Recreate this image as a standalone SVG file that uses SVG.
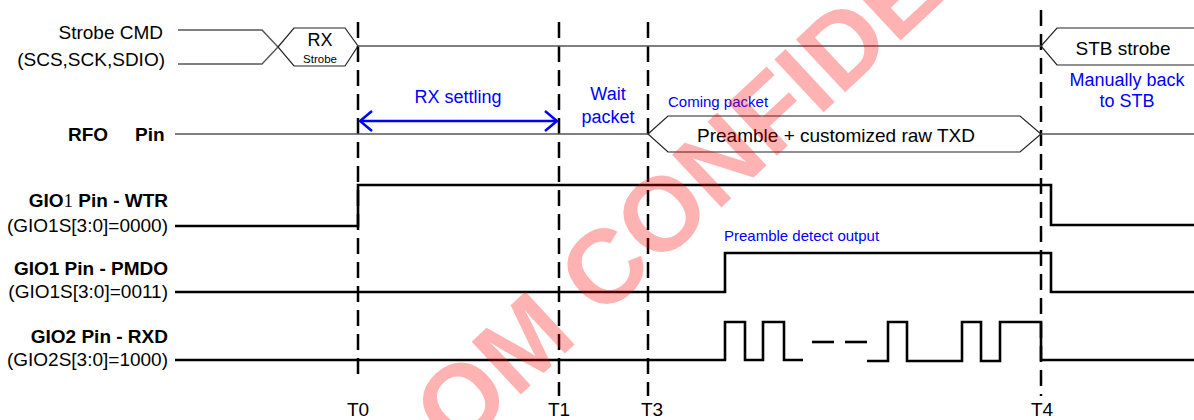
<svg xmlns="http://www.w3.org/2000/svg" width="1194" height="420" viewBox="0 0 1194 420">
<style>
text{font-family:"Liberation Sans",Arial,sans-serif;}
.lbl{font-size:19px;fill:#000;}
.b{font-weight:bold;}
.blue{fill:#0000ff;font-size:18px;}
.sm{fill:#0000ff;font-size:15px;}
.thin{fill:none;stroke:#555;stroke-width:1.4;}
.hex{fill:none;stroke:#222;stroke-width:1.2;}
.wave{fill:none;stroke:#000;stroke-width:2.6;stroke-linejoin:miter;}
.dash{stroke:#000;stroke-width:2.5;stroke-dasharray:16 8;}
.arr{fill:none;stroke:#0000ff;stroke-width:2.5;}
</style>
<rect width="1194" height="420" fill="#fff"/>

<g id="labels">
<text class="lbl" x="163" y="39" text-anchor="end">Strobe CMD</text>
<text class="lbl" x="165" y="66" text-anchor="end">(SCS,SCK,SDIO)</text>
<text class="lbl b" x="68" y="141">RFO</text>
<text class="lbl b" x="135" y="141">Pin</text>
<text class="lbl b" x="168" y="207" text-anchor="end">GIO<tspan font-weight="normal" font-family="Liberation Serif">1</tspan> Pin - WTR</text>
<text class="lbl" x="168" y="232" text-anchor="end">(GIO1S[3:0]=0000)</text>
<text class="lbl b" x="168" y="275" text-anchor="end">GIO1 Pin - PMDO</text>
<text class="lbl" x="168" y="298" text-anchor="end">(GIO1S[3:0]=0011)</text>
<text class="lbl b" x="168" y="343" text-anchor="end">GIO2 Pin - RXD</text>
<text class="lbl" x="168" y="366" text-anchor="end">(GIO2S[3:0]=1000)</text>
</g>

<g id="time-markers">
<line class="dash" x1="358" y1="22" x2="358" y2="380"/>
<line class="dash" x1="559" y1="22" x2="559" y2="396"/>
<line class="dash" x1="648" y1="22" x2="648" y2="396"/>
<line class="dash" x1="1041" y1="10" x2="1041" y2="396"/>
<text class="lbl" x="358" y="416" text-anchor="middle">T0</text>
<text class="lbl" x="559" y="416" text-anchor="middle">T1</text>
<text class="lbl" x="652" y="416" text-anchor="middle">T3</text>
<text class="lbl" x="1042" y="416" text-anchor="middle">T4</text>
</g>

<g id="strobe-cmd">
<polyline class="thin" points="178,30 262,30 278,47"/>
<polyline class="thin" points="178,64 262,64 278,47"/>
<polygon class="hex" points="278,47 294,28 345,28 358,46 345,66 294,66"/>
<text x="320" y="46" font-size="18" text-anchor="middle">RX</text>
<text x="320" y="63" font-size="11.5" text-anchor="middle">Strobe</text>
<line class="thin" x1="358" y1="46" x2="1041" y2="46"/>
<polyline class="hex" points="1194,28 1057,28 1041,46 1057,65 1194,65"/>
<text class="lbl" x="1123" y="55" text-anchor="middle">STB strobe</text>
<text class="blue" x="1127" y="86" text-anchor="middle">Manually back</text>
<text class="blue" x="1127" y="107" text-anchor="middle">to STB</text>
</g>

<g id="rfo">
<line class="thin" x1="175" y1="134" x2="648" y2="134"/>
<polygon class="hex" points="648,134 668,116 1020,116 1041,134 1020,152 668,152"/>
<line class="thin" x1="1041" y1="134" x2="1194" y2="134"/>
<text class="lbl" x="836" y="142" text-anchor="middle">Preamble + customized raw TXD</text>
<text class="sm" x="668" y="107">Coming packet</text>
<text class="blue" x="458" y="103" text-anchor="middle">RX settling</text>
<text class="blue" x="608" y="100" text-anchor="middle">Wait</text>
<text class="blue" x="608" y="123" text-anchor="middle">packet</text>
</g>

<g id="connectors">
<line class="arr" x1="360" y1="121" x2="557" y2="121"/>
<polyline class="arr" points="372,111 360,121 372,131"/>
<polyline class="arr" points="545,111 557,121 545,131"/>
</g>

<g id="gio1-wtr">
<polyline class="wave" points="175,226 358,226 358,185 1051,185 1051,225 1194,225"/>
</g>

<g id="gio1-pmdo">
<polyline class="wave" points="175,292 725,292 725,253 1051,253 1051,292 1194,292"/>
<text class="sm" x="724" y="241">Preamble detect output</text>
</g>

<g id="gio2-rxd">
<polyline class="wave" points="175,360 725,360 725,322 745,322 745,360 763,360 763,322 784,322 784,360 803,360"/>
<line class="wave" x1="812" y1="342" x2="834" y2="342" stroke-width="3.5"/>
<line class="wave" x1="845" y1="342" x2="867" y2="342" stroke-width="3.5"/>
<polyline class="wave" points="867,361 888,361 888,322 907,322 907,361 962,361 962,322 981,322 981,361 1000,361 1000,322 1041,322 1041,360 1194,360"/>
</g>

<g id="watermark">
<text x="456" y="455" transform="rotate(-43 456 455)" font-size="105" font-weight="bold" fill="#ff0000" fill-opacity="0.3">OM CONFIDE</text>
</g>
</svg>
